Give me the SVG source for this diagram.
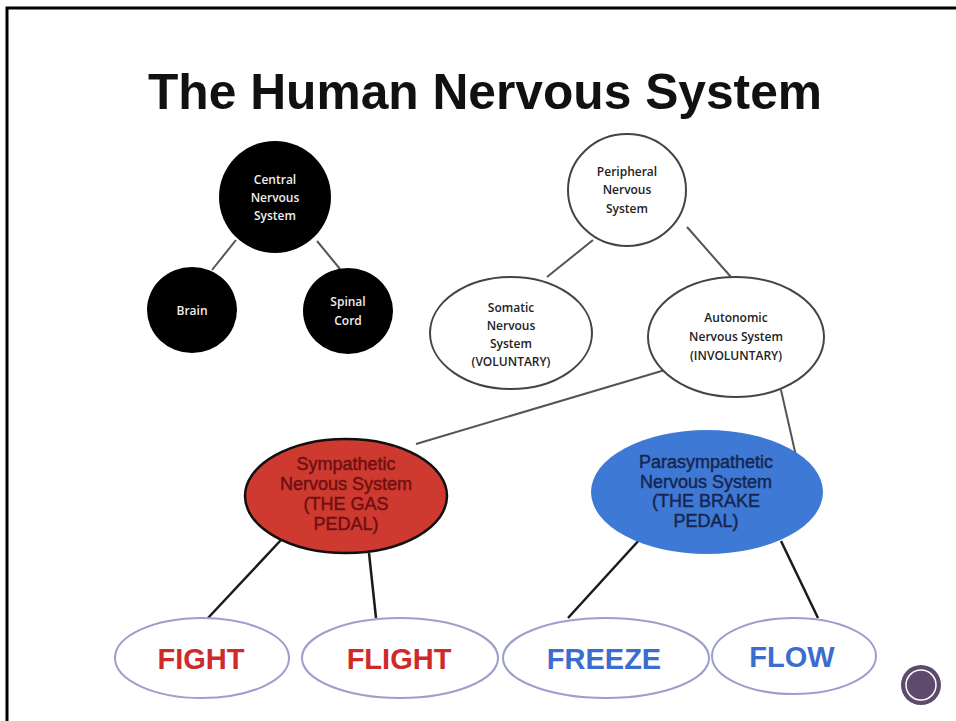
<svg xmlns="http://www.w3.org/2000/svg" width="956" height="721" viewBox="0 0 956 721">
<style>
.sm{font-family:"Open Sans","Liberation Sans",sans-serif;font-size:12px;font-weight:600;text-anchor:middle}
.wt{fill:#eeeeee}
.bk{fill:#222}
.wn{fill:#fff;stroke:#444;stroke-width:2}
.bn{fill:#000}
.mid{font-family:"Liberation Sans",Arial,sans-serif;font-size:18px;text-anchor:middle;stroke-width:0.45}
.big{font-family:"Liberation Sans",Arial,sans-serif;font-size:29px;font-weight:bold;text-anchor:middle}
.leaf{fill:#fff;stroke:#9c9fcc;stroke-width:2}
.c1{stroke:#555;stroke-width:2;fill:none}
.c2{stroke:#1a1a1a;stroke-width:2.5;fill:none}
</style>
<rect x="0" y="0" width="956" height="721" fill="#fff"/>
<path d="M7,721 V8 H956" fill="none" stroke="#000" stroke-width="3"/>
<text x="485" y="109" font-family="'Liberation Sans',Arial,sans-serif" font-size="50" font-weight="bold" text-anchor="middle" textLength="674" lengthAdjust="spacingAndGlyphs" fill="#111">The Human Nervous System</text>
<g id="connectors">
<line class="c1" x1="236" y1="240" x2="212" y2="270"/>
<line class="c1" x1="317" y1="241" x2="340" y2="269"/>
<line class="c1" x1="593" y1="240" x2="547" y2="277"/>
<line class="c1" x1="687" y1="227" x2="731" y2="277"/>
<line class="c1" x1="665" y1="370" x2="416" y2="444"/>
<line class="c1" x1="781" y1="390" x2="796" y2="456"/>
<line class="c2" x1="281" y1="540" x2="208" y2="618"/>
<line class="c2" x1="369" y1="553" x2="376" y2="618"/>
<line class="c2" x1="641" y1="538" x2="568" y2="618"/>
<line class="c2" x1="781" y1="541" x2="818" y2="618"/>
</g>
<g id="cns">
<circle class="bn" cx="275" cy="197" r="56"/>
<text class="sm wt" x="275" y="184">Central</text>
<text class="sm wt" x="275" y="202">Nervous</text>
<text class="sm wt" x="275" y="220">System</text>
</g>
<g id="brain">
<ellipse class="bn" cx="192" cy="310" rx="45" ry="43"/>
<text class="sm wt" x="192" y="315">Brain</text>
</g>
<g id="spinal">
<ellipse class="bn" cx="348" cy="311" rx="45" ry="43"/>
<text class="sm wt" x="348" y="306">Spinal</text>
<text class="sm wt" x="348" y="325">Cord</text>
</g>
<g id="peripheral">
<ellipse class="wn" cx="627" cy="190" rx="59" ry="56"/>
<text class="sm bk" x="627" y="176">Peripheral</text>
<text class="sm bk" x="627" y="194">Nervous</text>
<text class="sm bk" x="627" y="213">System</text>
</g>
<g id="somatic">
<ellipse class="wn" cx="511" cy="333" rx="81" ry="56"/>
<text class="sm bk" x="511" y="312">Somatic</text>
<text class="sm bk" x="511" y="330">Nervous</text>
<text class="sm bk" x="511" y="348">System</text>
<text class="sm bk" x="511" y="366">(VOLUNTARY)</text>
</g>
<g id="autonomic">
<ellipse class="wn" cx="736" cy="337" rx="88" ry="60"/>
<text class="sm bk" x="736" y="322">Autonomic</text>
<text class="sm bk" x="736" y="341">Nervous System</text>
<text class="sm bk" x="736" y="360">(INVOLUNTARY)</text>
</g>
<g id="sympathetic">
<ellipse cx="346" cy="496" rx="101" ry="57" fill="#cf3a30" stroke="#111" stroke-width="2.5"/>
<text class="mid" fill="#6e1010" stroke="#6e1010" x="346" y="470">Sympathetic</text>
<text class="mid" fill="#6e1010" stroke="#6e1010" x="346" y="490">Nervous System</text>
<text class="mid" fill="#6e1010" stroke="#6e1010" x="346" y="510">(THE GAS</text>
<text class="mid" fill="#6e1010" stroke="#6e1010" x="346" y="530">PEDAL)</text>
</g>
<g id="parasympathetic">
<ellipse cx="707" cy="492" rx="116" ry="62" fill="#3f79d6"/>
<text class="mid" fill="#16264f" stroke="#16264f" x="706" y="468">Parasympathetic</text>
<text class="mid" fill="#16264f" stroke="#16264f" x="706" y="488">Nervous System</text>
<text class="mid" fill="#16264f" stroke="#16264f" x="706" y="507">(THE BRAKE</text>
<text class="mid" fill="#16264f" stroke="#16264f" x="706" y="527">PEDAL)</text>
</g>
<g id="fight">
<ellipse class="leaf" cx="202" cy="658" rx="87" ry="40"/>
<text class="big" fill="#cf2a2a" x="201" y="669">FIGHT</text>
</g>
<g id="flight">
<ellipse class="leaf" cx="400" cy="658" rx="98" ry="40"/>
<text class="big" fill="#cf2a2a" x="399" y="669">FLIGHT</text>
</g>
<g id="freeze">
<ellipse class="leaf" cx="606" cy="658" rx="103" ry="40"/>
<text class="big" fill="#3a6dcf" x="604" y="669">FREEZE</text>
</g>
<g id="flow">
<ellipse class="leaf" cx="794" cy="656" rx="82" ry="38"/>
<text class="big" fill="#3a6dcf" x="792" y="667">FLOW</text>
</g>
<g id="navbutton">
<circle cx="921" cy="685" r="20" fill="#5d4a6c"/>
<circle cx="921" cy="685" r="15" fill="none" stroke="#fff" stroke-width="1.5"/>
</g>
</svg>
